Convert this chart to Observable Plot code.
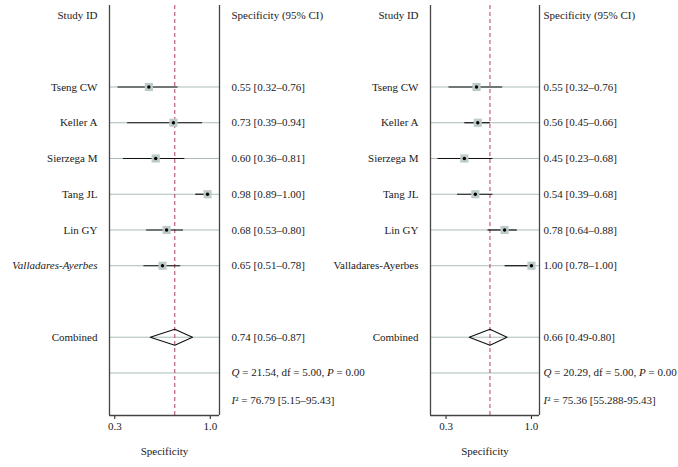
<!DOCTYPE html>
<html><head><meta charset="utf-8">
<script src="https://cdn.jsdelivr.net/npm/d3@7"></script>
<script src="https://cdn.jsdelivr.net/npm/@observablehq/plot@0.6"></script>
<style>
body{margin:0;background:#fff;}
#wrap{display:flex;width:678px;height:467px;}
#wrap svg{flex:none;overflow:visible;}
#wrap svg text{font-family:'Liberation Serif','Times New Roman',serif;}
</style></head><body><div id="wrap"></div>
<script>
// ---- data ----
const studies = ["Tseng CW", "Keller A", "Sierzega M", "Tang JL", "Lin GY", "Valladares-Ayerbes"];

const leftEst = [0.55, 0.73, 0.60, 0.98, 0.68, 0.65];
const leftLo  = [0.32, 0.39, 0.36, 0.89, 0.53, 0.51];
const leftHi  = [0.76, 0.94, 0.81, 1.00, 0.80, 0.78];
const leftLabels = ["0.55 [0.32–0.76]", "0.73 [0.39–0.94]", "0.60 [0.36–0.81]", "0.98 [0.89–1.00]", "0.68 [0.53–0.80]", "0.65 [0.51–0.78]"];
const leftCombined = [0.74, 0.56, 0.87];
const leftCombinedLabel = "0.74 [0.56–0.87]";
const leftQ = "Q = 21.54, df = 5.00, P = 0.00";
const leftI2 = "I² = 76.79 [5.15–95.43]";

const rightEst = [0.55, 0.56, 0.45, 0.54, 0.78, 1.00];
const rightLo  = [0.32, 0.45, 0.23, 0.39, 0.64, 0.78];
const rightHi  = [0.76, 0.66, 0.68, 0.68, 0.88, 1.00];
const rightLabels = ["0.55 [0.32–0.76]", "0.56 [0.45–0.66]", "0.45 [0.23–0.68]", "0.54 [0.39–0.68]", "0.78 [0.64–0.88]", "1.00 [0.78–1.00]"];
const rightCombined = [0.66, 0.49, 0.80];
const rightCombinedLabel = "0.66 [0.49-0.80]";
const rightQ = "Q = 20.29, df = 5.00, P = 0.00";
const rightI2 = "I² = 75.36 [55.288-95.43]";

const headerLeft = "Study ID";
const headerRight = "Specificity (95% CI)";
const combinedName = "Combined";
const xLabel = "Specificity";
const xTicks = [0.3, 1.0];

// ---- layout ----
const leftXDomain = [0.2613, 1.0678];
const rightXDomain = [0.1726, 1.066];
const yDomain = [-0.28, 11.19];
const FONT = "'Liberation Serif', 'Times New Roman', serif";

function panel(o) {
  const rows = studies.map((s, i) => ({s, est: o.est[i], lo: o.lo[i], hi: o.hi[i], label: o.labels[i], y: i + 2, italic: o.italicLast && i === studies.length - 1}));
  const yComb = 9, yQ = 10, h = 0.224;
  const [ce, cl, ch] = o.comb;
  const diamond = [[cl, yComb], [ce, yComb - h], [ch, yComb], [ce, yComb + h], [cl, yComb]];
  const svg = Plot.plot({
    width: o.width, height: 467,
    marginLeft: o.mLeft, marginRight: o.mRight, marginTop: 5, marginBottom: 52,
    style: `font-family: ${FONT}; font-size: 11px; background: transparent; color: #1a1a1a; overflow: visible;`,
    x: {domain: o.xDomain, ticks: xTicks, tickFormat: d3.format(".1f"), tickSize: 4, tickPadding: 3, label: null},
    y: {domain: yDomain, reverse: true, axis: null},
    marks: [
      Plot.ruleY([...rows.map(r => r.y), yComb, yQ], {stroke: "#aabbbb", strokeWidth: 1}),
      Plot.ruleX([ce], {stroke: "#b0405e", strokeWidth: 1, strokeDasharray: "4,3"}),
      Plot.link(rows, {x1: "lo", x2: "hi", y1: "y", y2: "y", stroke: "#111", strokeWidth: 1.2}),
      Plot.dot(rows, {x: "est", y: "y", symbol: "square", r: 4.6, fill: "#bccaca"}),
      Plot.dot(rows, {x: "est", y: "y", r: 1.7, fill: "#000"}),
      Plot.line(diamond, {x: d => d[0], y: d => d[1], stroke: "#111", strokeWidth: 1.1}),
      Plot.ruleX(o.xDomain, {stroke: "#444", strokeWidth: 1.3}),
      Plot.ruleY([yDomain[1]], {stroke: "#444", strokeWidth: 1.3}),
      // text columns
      Plot.text([headerLeft], {text: d => d, y: () => 0, frameAnchor: "left", textAnchor: "end", dx: -12}),
      Plot.text([headerRight], {text: d => d, y: () => 0, frameAnchor: "right", textAnchor: "start", dx: o.gapR}),
      Plot.text(rows.filter(r => !r.italic), {text: "s", y: "y", frameAnchor: "left", textAnchor: "end", dx: -12}),
      Plot.text(rows.filter(r => r.italic), {text: "s", y: "y", frameAnchor: "left", textAnchor: "end", dx: -12, fontStyle: "italic"}),
      Plot.text(rows, {text: "label", y: "y", frameAnchor: "right", textAnchor: "start", dx: o.gapR}),
      Plot.text([combinedName], {text: d => d, y: () => yComb, frameAnchor: "left", textAnchor: "end", dx: -12}),
      Plot.text([o.combLabel], {text: d => d, y: () => yComb, frameAnchor: "right", textAnchor: "start", dx: o.gapR}),
      Plot.text([o.q], {text: d => d, y: () => yQ, frameAnchor: "right", textAnchor: "start", dx: o.gapR}),
      Plot.text([o.i2], {text: d => d, y: () => yQ, frameAnchor: "right", textAnchor: "start", dx: o.gapR, dy: 28}),
      Plot.text([xLabel], {text: d => d, frameAnchor: "bottom", dy: 39})
    ]
  });
  svg.setAttribute("font-family", FONT);
  svg.setAttribute("font-size", "11");
  // italic math symbols in statistic lines
  d3.select(svg).selectAll("text").each(function() {
    const t = this.textContent;
    if (!(t.startsWith("Q =") || t.startsWith("I²"))) return;
    const parts = t.split(/(\bQ(?= =)|\bP(?= =)|^I(?=²))/);
    const el = d3.select(this);
    el.text(null);
    parts.forEach((p, k) => {
      if (!p) return;
      const ts = el.append("tspan").text(p);
      if (k % 2 === 1) ts.attr("font-style", "italic");
    });
  });
  return svg;
}

const wrap = document.getElementById("wrap");
wrap.appendChild(panel({est: leftEst, lo: leftLo, hi: leftHi, labels: leftLabels, comb: leftCombined, combLabel: leftCombinedLabel, q: leftQ, i2: leftI2, italicLast: true, xDomain: leftXDomain, width: 338, mLeft: 109, mRight: 119, gapR: 12}));
wrap.appendChild(panel({est: rightEst, lo: rightLo, hi: rightHi, labels: rightLabels, comb: rightCombined, combLabel: rightCombinedLabel, q: rightQ, i2: rightI2, italicLast: false, xDomain: rightXDomain, width: 340, mLeft: 92, mRight: 139, gapR: 4}));
</script>
</body></html>
